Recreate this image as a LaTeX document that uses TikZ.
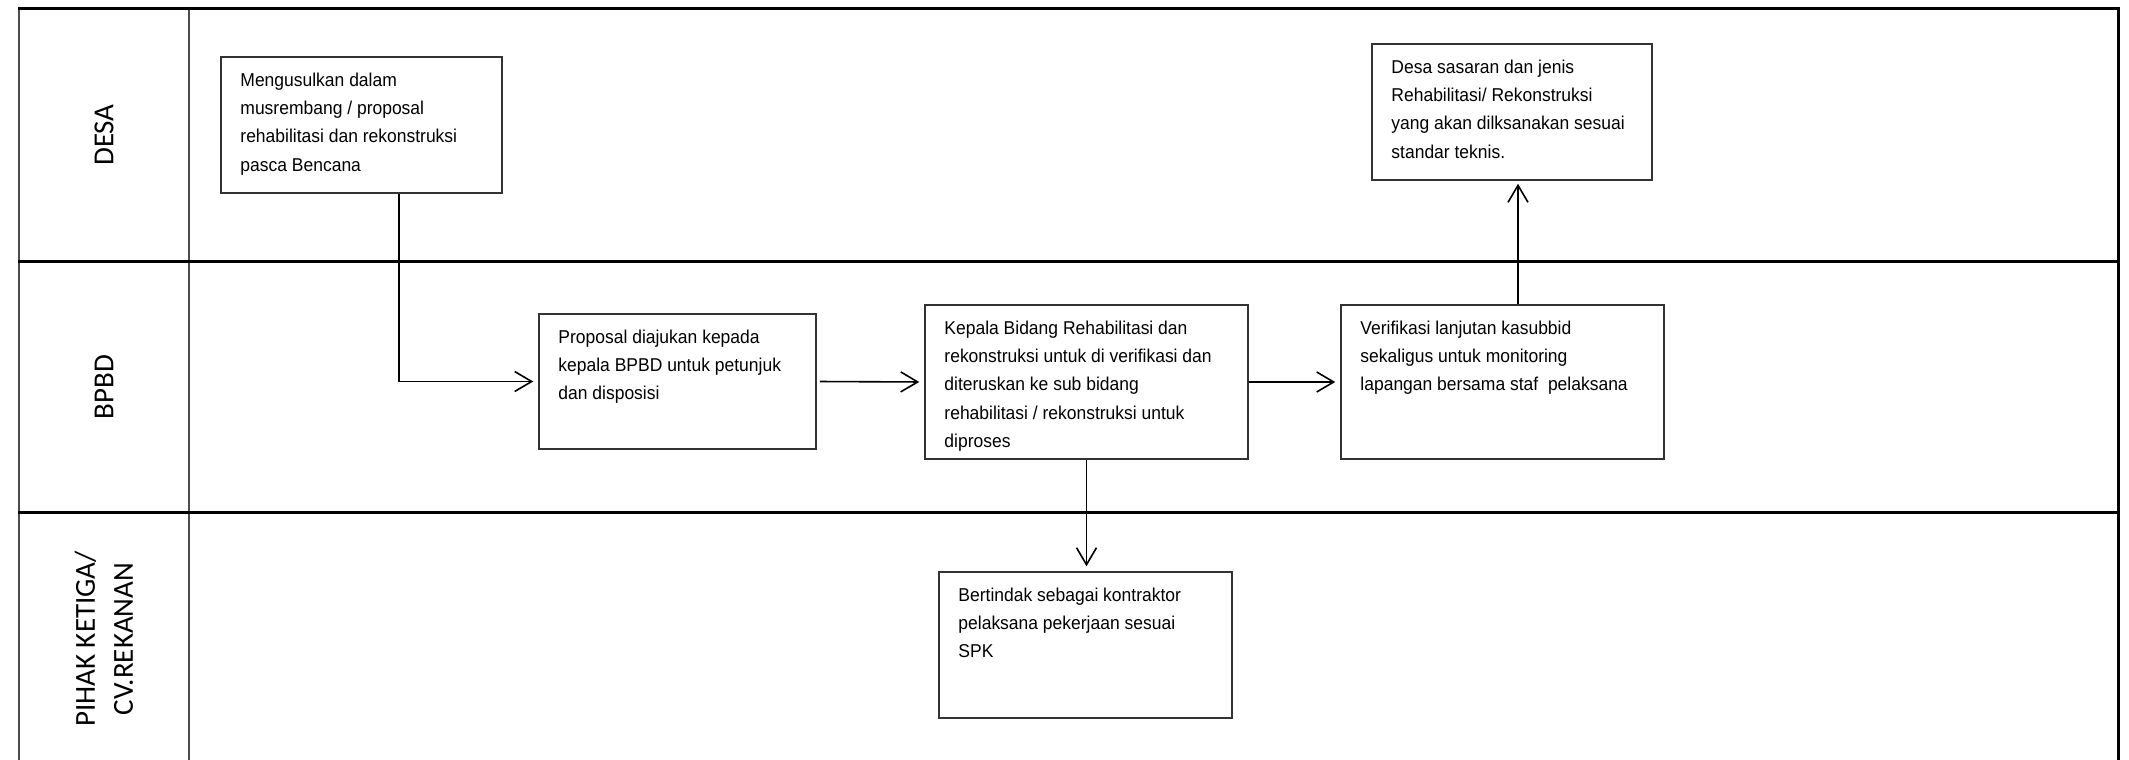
\documentclass[tikz,border=0pt]{standalone}
\usepackage{fontspec}
\setmainfont{Liberation Sans}
\newfontfamily\boxfont[FakeStretch=0.94]{Liberation Sans}
\newfontfamily\lanefont{Carlito}
\usetikzlibrary{arrows.meta}
\tikzset{
  thickrule/.style={line width=3pt, black},
  thinrule/.style={line width=1.6pt, black!70},
  stepbox/.style={draw=black!80, line width=1.5pt, rectangle, inner sep=0pt},
  boxtext/.style={anchor=north west, inner sep=0pt, align=left,
     font=\boxfont\fontsize{18.6pt}{28.3pt}\selectfont},
  lanelabel/.style={rotate=90, align=center, inner sep=0pt,
     font=\lanefont\fontsize{29pt}{38pt}\selectfont},
  flow/.style={line width=1.6pt, black, -{Straight Barb[length=17pt,width=20pt,line width=1.6pt]}, shorten >=5pt}
}
\newcommand{\fs}{\rule{0pt}{14pt}}
\begin{document}
\begin{tikzpicture}[x=1pt,y=-1pt]
\useasboundingbox (0,0) rectangle (2129,760);
% frame and lanes
\draw[thinrule] (19,9) -- (19,760);
\draw[thinrule] (189,9) -- (189,760);
\draw[thickrule] (18,9) -- (2119.5,9);
\draw[thickrule] (2118,9) -- (2118,760);
\draw[thickrule] (18,261) -- (2119.5,261);
\draw[thickrule] (18,512) -- (2119.5,512);
% lane labels
\node[lanelabel] (l1) at (104,135) {DESA};
\node[lanelabel] (l2) at (104,387) {BPBD};
\node[lanelabel] (l3) at (104,639) {PIHAK KETIGA/\\CV.REKANAN};
% boxes
\node[stepbox, minimum width=281pt, minimum height=136pt] (b1) at (361.5,125) {};
\node[stepbox, minimum width=277pt, minimum height=135pt] (b2) at (677.5,381.5) {};
\node[stepbox, minimum width=323pt, minimum height=154pt] (b3) at (1086.5,382) {};
\node[stepbox, minimum width=293pt, minimum height=146pt] (b4) at (1085.5,645) {};
\node[stepbox, minimum width=280pt, minimum height=136pt] (b5) at (1512,112) {};
\node[stepbox, minimum width=323pt, minimum height=154pt] (b6) at (1502.5,382) {};
% texts
\node[boxtext] (t1) at ([xshift=20pt,yshift=-15.8pt]b1.north west) {\fs Mengusulkan dalam\\musrembang / proposal\\rehabilitasi dan rekonstruksi\\pasca Bencana};
\node[boxtext] (t2) at ([xshift=20pt,yshift=-15.8pt]b2.north west) {\fs Proposal diajukan kepada\\kepala BPBD untuk petunjuk\\dan disposisi};
\node[boxtext] (t3) at ([xshift=20pt,yshift=-15.8pt]b3.north west) {\fs Kepala Bidang Rehabilitasi dan\\rekonstruksi untuk di verifikasi dan\\diteruskan ke sub bidang\\rehabilitasi / rekonstruksi untuk\\diproses};
\node[boxtext] (t4) at ([xshift=20pt,yshift=-15.8pt]b4.north west) {\fs Bertindak sebagai kontraktor\\pelaksana pekerjaan sesuai\\SPK};
\node[boxtext] (t5) at ([xshift=20pt,yshift=-15.8pt]b5.north west) {\fs Desa sasaran dan jenis\\Rehabilitasi/ Rekonstruksi\\yang akan dilksanakan sesuai\\standar teknis.};
\node[boxtext] (t6) at ([xshift=20pt,yshift=-15.8pt]b6.north west) {\fs Verifikasi lanjutan kasubbid\\sekaligus untuk monitoring\\lapangan bersama staf\ \ pelaksana};
% connectors
\coordinate (c1) at (399,0);
\coordinate (c2) at (1518,0);
\draw[flow] (b1.south -| c1) |- (b2.west);
\draw[flow, shorten <=3pt] (b2.east) -- (b3.west);
\draw[flow] (b3.east) -- (b6.west);
\draw[flow] (b3.south) -- (b3.south |- b4.north);
\draw[flow, shorten >=3pt] (b6.north -| c2) -- (b5.south -| c2);
\end{tikzpicture}
\end{document}
